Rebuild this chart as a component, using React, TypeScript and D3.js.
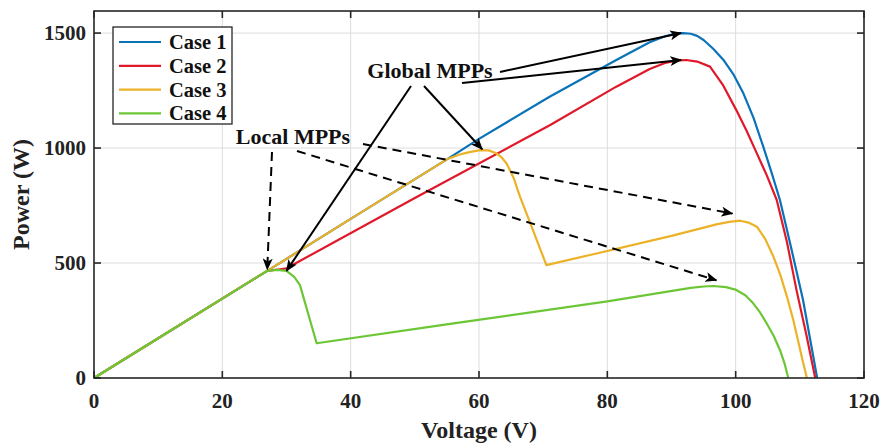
import { useEffect, useRef } from 'react';
import * as d3 from 'd3';

// voltage (V), power (W)
const case1V = [0, 27, 40, 55, 60, 71, 81.4, 86.6, 89, 90.5, 91.8, 93, 94, 95, 96.5, 98.1, 99.7, 101.2, 102.8, 104.3, 105.6, 106.9, 108.7, 110.5, 112.7];
const case1P = [0, 466, 692, 951, 1040, 1223, 1383, 1460, 1486, 1497, 1500, 1497, 1488, 1470, 1432, 1383, 1318, 1238, 1130, 1006, 893, 774, 560, 339, 0];

const case2V = [0, 27, 29, 30, 50, 71.1, 81.4, 86.6, 89, 90.8, 92.3, 94, 96, 98, 100.1, 101.7, 103.3, 104.9, 106.4, 108, 109.5, 111, 112.4];
const case2P = [0, 466, 473, 477, 783, 1100, 1267, 1344, 1370, 1380, 1383, 1376, 1354, 1275, 1165, 1075, 977, 878, 774, 590, 380, 190, 0];

const case3V = [0, 27, 40, 55, 57, 58.5, 60.2, 61.5, 62.7, 63.5, 64.3, 65.4, 66.4, 68.2, 70.5, 77.3, 90, 97, 99, 100.7, 102, 103.3, 104.6, 105.9, 107, 108, 109, 109.7, 110.4, 111.1];
const case3P = [0, 466, 692, 951, 972, 982, 991, 990, 977, 960, 933, 870, 788, 658, 491, 535, 618, 668, 679, 684, 676, 658, 605, 527, 445, 353, 250, 165, 80, 0];

const case4V = [0, 27, 28.5, 30, 31.2, 32.1, 34.7, 55.5, 80, 93, 95, 96.5, 98.5, 100.1, 101.5, 102.7, 103.8, 104.8, 105.9, 106.9, 107.6, 108.2];
const case4P = [0, 466, 470, 466, 440, 404, 151, 235, 333, 392, 398, 400, 395, 383, 360, 326, 285, 239, 185, 122, 65, 0];

const caseNames = ['Case 1', 'Case 2', 'Case 3', 'Case 4'];
const caseColors = ['#0a72b8', '#e0192a', '#ecb227', '#6cc636'];

const xTicks = [0, 20, 40, 60, 80, 100, 120];
const yTicks = [0, 500, 1000, 1500];

export default function App() {
    const ref = useRef<SVGSVGElement | null>(null);

    useEffect(() => {
        if (!ref.current) return;
        const svg = d3.select(ref.current);
        svg.selectAll('*').remove();

        const left = 94, right = 864, top = 11, bottom = 378;
        const font = '"Liberation Serif", "Times New Roman", serif';

        const x = d3.scaleLinear().domain([0, 120]).range([left, right]);
        const y = d3.scaleLinear().domain([0, 1596]).range([bottom, top]);

        const defs = svg.append('defs');
        defs.append('marker')
            .attr('id', 'head')
            .attr('viewBox', '0 0 12 10')
            .attr('refX', 11).attr('refY', 5)
            .attr('markerWidth', 12).attr('markerHeight', 10)
            .attr('markerUnits', 'userSpaceOnUse')
            .attr('orient', 'auto')
            .append('path')
            .attr('d', 'M0,0 L12,5 L0,10 L3,5 Z')
            .attr('fill', '#000');

        svg.append('rect')
            .attr('x', left).attr('y', top)
            .attr('width', right - left).attr('height', bottom - top)
            .attr('fill', '#fff');

        // grid
        const grid = svg.append('g').attr('stroke', '#dcdcdc').attr('stroke-width', 1);
        xTicks.slice(1, -1).forEach(t => {
            grid.append('line').attr('x1', x(t)).attr('x2', x(t)).attr('y1', top).attr('y2', bottom);
        });
        yTicks.slice(1).forEach(t => {
            grid.append('line').attr('x1', left).attr('x2', right).attr('y1', y(t)).attr('y2', y(t));
        });

        // curves
        const series = [
            { v: case1V, p: case1P },
            { v: case2V, p: case2P },
            { v: case3V, p: case3P },
            { v: case4V, p: case4P },
        ];
        const line = d3.line<[number, number]>()
            .x(d => x(d[0]))
            .y(d => y(d[1]));

        series.forEach((s, i) => {
            const pts = s.v.map((v, j) => [v, s.p[j]] as [number, number]);
            svg.append('path')
                .attr('d', line(pts))
                .attr('fill', 'none')
                .attr('stroke', caseColors[i])
                .attr('stroke-width', 2.2)
                .attr('stroke-linejoin', 'round');
        });

        // axes box and ticks
        const axis = svg.append('g').attr('stroke', '#262626').attr('stroke-width', 1.6);
        axis.append('rect')
            .attr('x', left).attr('y', top)
            .attr('width', right - left).attr('height', bottom - top)
            .attr('fill', 'none');
        const tl = 7;
        xTicks.forEach(t => {
            axis.append('line').attr('x1', x(t)).attr('x2', x(t)).attr('y1', bottom).attr('y2', bottom - tl);
            axis.append('line').attr('x1', x(t)).attr('x2', x(t)).attr('y1', top).attr('y2', top + tl);
        });
        yTicks.forEach(t => {
            axis.append('line').attr('x1', left).attr('x2', left + tl).attr('y1', y(t)).attr('y2', y(t));
            axis.append('line').attr('x1', right).attr('x2', right - tl).attr('y1', y(t)).attr('y2', y(t));
        });

        svg.append('g')
            .selectAll('text')
            .data(xTicks)
            .join('text')
            .attr('x', d => x(d))
            .attr('y', 408)
            .attr('text-anchor', 'middle')
            .attr('font-family', font)
            .attr('font-weight', 'bold')
            .attr('font-size', 21)
            .attr('fill', '#222')
            .text(d => d);

        svg.append('g')
            .selectAll('text')
            .data(yTicks)
            .join('text')
            .attr('x', 86)
            .attr('y', d => y(d) + 7)
            .attr('text-anchor', 'end')
            .attr('font-family', font)
            .attr('font-weight', 'bold')
            .attr('font-size', 21)
            .attr('fill', '#222')
            .text(d => d);

        svg.append('text')
            .attr('x', x(60))
            .attr('y', 438)
            .attr('text-anchor', 'middle')
            .attr('font-family', font)
            .attr('font-weight', 'bold')
            .attr('font-size', 24)
            .attr('fill', '#222')
            .text('Voltage (V)');

        svg.append('text')
            .attr('transform', `translate(29, ${(top + bottom) / 2}) rotate(-90)`)
            .attr('text-anchor', 'middle')
            .attr('font-family', font)
            .attr('font-weight', 'bold')
            .attr('font-size', 24)
            .attr('fill', '#222')
            .text('Power (W)');

        // annotations
        const ann = svg.append('g')
            .attr('font-family', font)
            .attr('font-weight', 'bold')
            .attr('font-size', 22)
            .attr('fill', '#111');
        ann.append('text').attr('x', 430).attr('y', 78).attr('text-anchor', 'middle').text('Global MPPs');
        ann.append('text').attr('x', 293).attr('y', 144).attr('text-anchor', 'middle').text('Local MPPs');

        const arrows = svg.append('g')
            .attr('stroke', '#000')
            .attr('stroke-width', 2)
            .attr('fill', 'none');
        const arrow = (x1: number, y1: number, x2: number, y2: number, dashed: boolean) => {
            arrows.append('line')
                .attr('x1', x1).attr('y1', y1)
                .attr('x2', x2).attr('y2', y2)
                .attr('stroke-dasharray', dashed ? '9,6' : null)
                .attr('marker-end', 'url(#head)');
        };
        // global MPPs
        arrow(500, 72, x(91.5), y(1500), false);
        arrow(462, 83, x(91.5), y(1383), false);
        arrow(411, 86, x(30), y(466), false);
        arrow(424, 86, x(60.5), y(995), false);
        // local MPPs
        arrow(272, 152, x(27), y(472), true);
        arrow(297, 151, x(97), y(425), true);
        arrow(363, 144, x(99.5), y(715), true);

        // legend
        const lg = svg.append('g');
        lg.append('rect')
            .attr('x', 113).attr('y', 27)
            .attr('width', 119).attr('height', 97)
            .attr('fill', '#fff')
            .attr('stroke', '#262626')
            .attr('stroke-width', 1.3);
        caseNames.forEach((name, i) => {
            const ly = 42 + i * 23.8;
            lg.append('line')
                .attr('x1', 119).attr('x2', 161)
                .attr('y1', ly).attr('y2', ly)
                .attr('stroke', caseColors[i])
                .attr('stroke-width', 2.2);
            lg.append('text')
                .attr('x', 169).attr('y', ly + 7)
                .attr('font-family', font)
                .attr('font-weight', 'bold')
                .attr('font-size', 20.5)
                .attr('fill', '#111')
                .text(name);
        });
    }, []);

    return (
        <div style={{ position: 'fixed', left: 0, top: 0 }}>
            <svg ref={ref} width={886} height={445} style={{ display: 'block', background: '#fff' }} />
        </div>
    );
}
